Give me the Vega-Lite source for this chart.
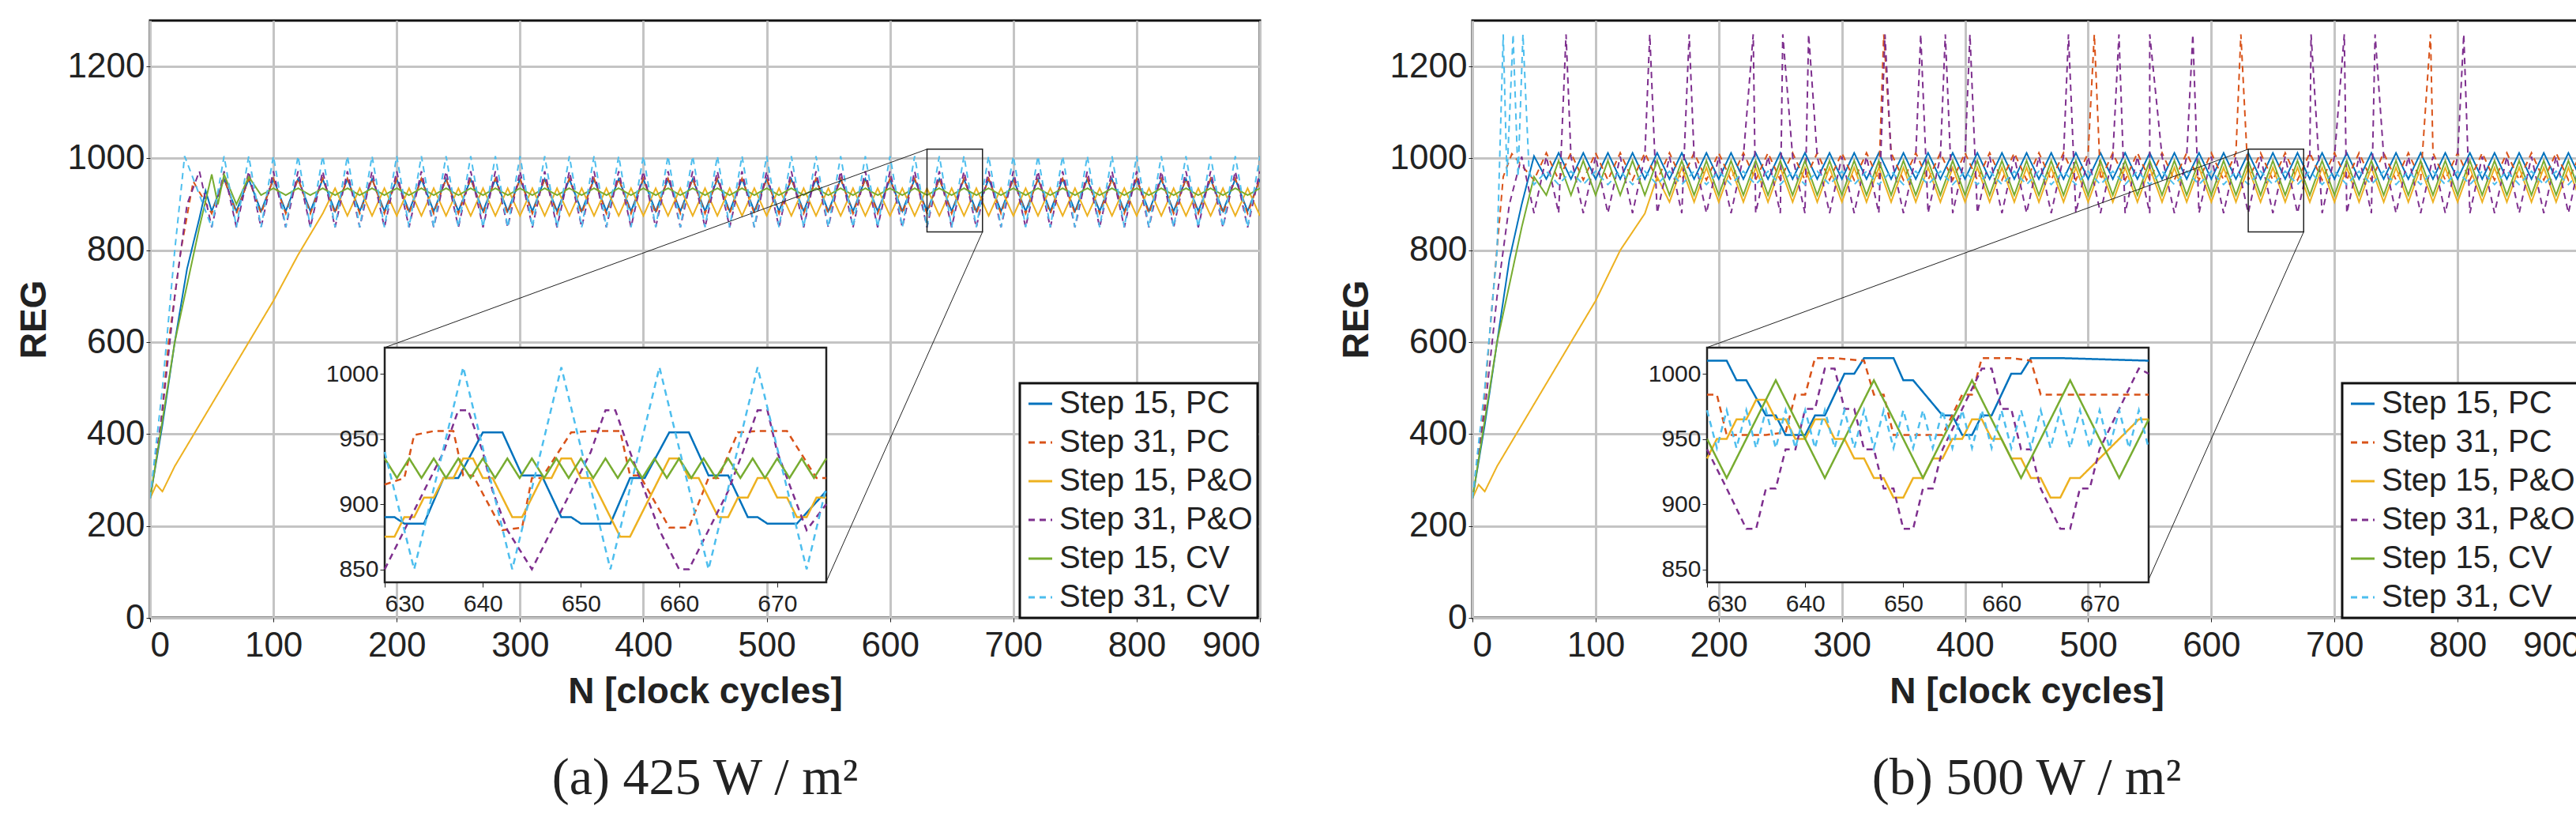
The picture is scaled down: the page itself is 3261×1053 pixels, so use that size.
{
"$schema":"https://vega.github.io/schema/vega-lite/v6.json",
"background":"white",
"padding":{"left":18,"top":24,"right":5,"bottom":5},
"config":{"font":"Liberation Sans","view":{"stroke":"#111","strokeWidth":3},
"axis":{"labelFont":"Liberation Sans","labelFontSize":44,"labelColor":"#222","titleFont":"Liberation Sans","titleFontSize":46,"titleFontWeight":"bold","titleColor":"#222","gridColor":"#c4c4c4","gridWidth":3,"gridOpacity":1,"tickColor":"#222","domain":false,"format":"d"},
"legend":{"labelFont":"Liberation Sans","labelFontSize":40,"labelColor":"#222","strokeColor":"#111","strokeWidth":3,"fillColor":"white","padding":6,"rowPadding":9,"symbolType":"stroke","symbolSize":900,"symbolStrokeWidth":3,"title":null,"labelLimit":400}},
"datasets":{
"a":[
{"s":"Step 15, PC","x":[0,10,20,30,40,45,50,60,70,80,90,100,110,120,130,140,150,160,170,180,190,200,210,220,230,240,250,260,270,280,290,300,310,320,330,340,350,360,370,380,390,400,410,420,430,440,450,460,470,480,490,500,510,520,530,540,550,560,570,580,590,600,610,620,630,640,650,660,670,680,690,700,710,720,730,740,750,760,770,780,790,800,810,820,830,840,850,860,870,880,890,900],"y":[260,420,600,760,870,930,885,955,885,955,885,955,885,955,885,955,885,955,885,955,885,955,885,955,885,955,885,955,885,955,885,955,885,955,885,955,885,955,885,955,885,955,885,955,885,955,885,955,885,955,885,955,885,955,885,955,885,955,885,955,885,955,885,955,885,955,885,955,885,955,885,955,885,955,885,955,885,955,885,955,885,955,885,955,885,955,885,955,885,955,885,955]},
{"s":"Step 31, PC","x":[0,8,15,25,35,50,60,70,80,90,100,110,120,130,140,150,160,170,180,190,200,210,220,230,240,250,260,270,280,290,300,310,320,330,340,350,360,370,380,390,400,410,420,430,440,450,460,470,480,490,500,510,520,530,540,550,560,570,580,590,600,610,620,630,640,650,660,670,680,690,700,710,720,730,740,750,760,770,780,790,800,810,820,830,840,850,860,870,880,890,900],"y":[260,400,600,800,950,880,956,880,956,880,956,880,956,880,956,880,956,880,956,880,956,880,956,880,956,880,956,880,956,880,956,880,956,880,956,880,956,880,956,880,956,880,956,880,956,880,956,880,956,880,956,880,956,880,956,880,956,880,956,880,956,880,956,880,956,880,956,880,956,880,956,880,956,880,956,880,956,880,956,880,956,880,956,880,956,880,956,880,956,880,956]},
{"s":"Step 15, P&O","x":[0,5,10,20,40,60,80,100,120,140,150,160,170,180,190,200,210,220,230,240,250,260,270,280,290,300,310,320,330,340,350,360,370,380,390,400,410,420,430,440,450,460,470,480,490,500,510,520,530,540,550,560,570,580,590,600,610,620,630,640,650,660,670,680,690,700,710,720,730,740,750,760,770,780,790,800,810,820,830,840,850,860,870,880,890,900],"y":[260,290,275,330,420,510,600,690,790,880,935,875,935,875,935,875,935,875,935,875,935,875,935,875,935,875,935,875,935,875,935,875,935,875,935,875,935,875,935,875,935,875,935,875,935,875,935,875,935,875,935,875,935,875,935,875,935,875,935,875,935,875,935,875,935,875,935,875,935,875,935,875,935,875,935,875,935,875,935,875,935,875,935,875,935,875]},
{"s":"Step 31, P&O","x":[0,10,20,30,40,50,60,70,80,90,100,110,120,130,140,150,160,170,180,190,200,210,220,230,240,250,260,270,280,290,300,310,320,330,340,350,360,370,380,390,400,410,420,430,440,450,460,470,480,490,500,510,520,530,540,550,560,570,580,590,600,610,620,630,640,650,660,670,680,690,700,710,720,730,740,750,760,770,780,790,800,810,820,830,840,850,860,870,880,890,900],"y":[260,450,700,900,972,850,972,850,972,850,972,850,972,850,972,850,972,850,972,850,972,850,972,850,972,850,972,850,972,850,972,850,972,850,972,850,972,850,972,850,972,850,972,850,972,850,972,850,972,850,972,850,972,850,972,850,972,850,972,850,972,850,972,850,972,850,972,850,972,850,972,850,972,850,972,850,972,850,972,850,972,850,972,850,972,850,972,850,972,850,972]},
{"s":"Step 15, CV","x":[0,20,40,50,55,60,70,80,90,100,110,120,130,140,150,160,170,180,190,200,210,220,230,240,250,260,270,280,290,300,310,320,330,340,350,360,370,380,390,400,410,420,430,440,450,460,470,480,490,500,510,520,530,540,550,560,570,580,590,600,610,620,630,640,650,660,670,680,690,700,710,720,730,740,750,760,770,780,790,800,810,820,830,840,850,860,870,880,890,900],"y":[260,600,850,965,900,965,900,960,920,935,920,935,920,935,920,935,920,935,920,935,920,935,920,935,920,935,920,935,920,935,920,935,920,935,920,935,920,935,920,935,920,935,920,935,920,935,920,935,920,935,920,935,920,935,920,935,920,935,920,935,920,935,920,935,920,935,920,935,920,935,920,935,920,935,920,935,920,935,920,935,920,935,920,935,920,935,920,935,920,935]},
{"s":"Step 31, CV","x":[0,10,20,28,50,60,70,80,90,100,110,120,130,140,150,160,170,180,190,200,210,220,230,240,250,260,270,280,290,300,310,320,330,340,350,360,370,380,390,400,410,420,430,440,450,460,470,480,490,500,510,520,530,540,550,560,570,580,590,600,610,620,630,640,650,660,670,680,690,700,710,720,730,740,750,760,770,780,790,800,810,820,830,840,850,860,870,880,890,900],"y":[260,500,800,1005,850,1005,850,1005,850,1005,850,1005,850,1005,850,1005,850,1005,850,1005,850,1005,850,1005,850,1005,850,1005,850,1005,850,1005,850,1005,850,1005,850,1005,850,1005,850,1005,850,1005,850,1005,850,1005,850,1005,850,1005,850,1005,850,1005,850,1005,850,1005,850,1005,850,1005,850,1005,850,1005,850,1005,850,1005,850,1005,850,1005,850,1005,850,1005,850,1005,850,1005,850,1005,850,1005,850,1005]}
],
"b":[
{"s":"Step 15, PC","x":[0,10,20,30,40,50,60,70,80,90,100,110,120,130,140,150,160,170,180,190,200,210,220,230,240,250,260,270,280,290,300,310,320,330,340,350,360,370,380,390,400,410,420,430,440,450,460,470,480,490,500,510,520,530,540,550,560,570,580,590,600,610,620,630,640,650,660,670,680,690,700,710,720,730,740,750,760,770,780,790,800,810,820,830,840,850,860,870,880,890,900],"y":[260,420,600,780,900,1005,955,1012,955,1012,955,1012,955,1012,955,1012,955,1012,955,1012,955,1012,955,1012,955,1012,955,1012,955,1012,955,1012,955,1012,955,1012,955,1012,955,1012,955,1012,955,1012,955,1012,955,1012,955,1012,955,1012,955,1012,955,1012,955,1012,955,1012,955,1012,955,1012,955,1012,955,1012,955,1012,955,1012,955,1012,955,1012,955,1012,955,1012,955,1012,955,1012,955,1012,955,1012,955,1012,955]},
{"s":"Step 31, PC","x":[0,8,15,25,32,50,60,70,80,90,100,110,120,130,140,150,160,170,180,190,200,210,220,230,240,250,260,270,280,290,300,310,320,330,340,350,360,370,380,390,400,410,420,430,440,450,460,470,480,490,500,510,520,530,540,550,560,570,580,590,600,610,620,630,640,650,660,670,680,690,700,710,720,730,740,750,760,770,780,790,800,810,820,830,840,850,860,870,880,890,900,334,505,624,778],"y":[260,420,650,960,1010,953,1012,953,1012,953,1012,953,1012,953,1012,953,1012,953,1012,953,1012,953,1012,953,1012,953,1012,953,1012,953,1012,953,1012,953,1012,953,1012,953,1012,953,1012,953,1012,953,1012,953,1012,953,1012,953,1012,953,1012,953,1012,953,1012,953,1012,953,1012,953,1012,953,1012,953,1012,953,1012,953,1012,953,1012,953,1012,953,1012,953,1012,953,1012,953,1012,953,1012,953,1012,953,1012,953,1012,1270,1270,1270,1270]},
{"s":"Step 15, P&O","x":[0,5,10,20,40,60,80,100,120,140,150,160,170,180,190,200,210,220,230,240,250,260,270,280,290,300,310,320,330,340,350,360,370,380,390,400,410,420,430,440,450,460,470,480,490,500,510,520,530,540,550,560,570,580,590,600,610,620,630,640,650,660,670,680,690,700,710,720,730,740,750,760,770,780,790,800,810,820,830,840,850,860,870,880,890,900],"y":[260,290,275,330,420,510,600,690,800,880,960,905,980,905,980,905,980,905,980,905,980,905,980,905,980,905,980,905,980,905,980,905,980,905,980,905,980,905,980,905,980,905,980,905,980,905,980,905,980,905,980,905,980,905,980,905,980,905,980,905,980,905,980,905,980,905,980,905,980,905,980,905,980,905,980,905,980,905,980,905,980,905,980,905,980,905]},
{"s":"Step 31, P&O","x":[0,10,20,30,40,50,60,70,80,90,100,110,120,130,140,150,160,170,180,190,200,210,220,230,240,250,260,270,280,290,300,310,320,330,340,350,360,370,380,390,400,410,420,430,440,450,460,470,480,490,500,510,520,530,540,550,560,570,580,590,600,610,620,630,640,650,660,670,680,690,700,710,720,730,740,750,760,770,780,790,800,810,820,830,840,850,860,870,880,890,900,76,144,176,228,252,273,335,364,384,404,484,525,550,585,681,708,733,805],"y":[260,450,700,900,1004,881,1004,881,1004,881,1004,881,1004,881,1004,881,1004,881,1004,881,1004,881,1004,881,1004,881,1004,881,1004,881,1004,881,1004,881,1004,881,1004,881,1004,881,1004,881,1004,881,1004,881,1004,881,1004,881,1004,881,1004,881,1004,881,1004,881,1004,881,1004,881,1004,881,1004,881,1004,881,1004,881,1004,881,1004,881,1004,881,1004,881,1004,881,1004,881,1004,881,1004,881,1004,881,1004,881,1004,1270,1270,1270,1270,1270,1270,1270,1270,1270,1270,1270,1270,1270,1270,1270,1270,1270,1270]},
{"s":"Step 15, CV","x":[0,20,40,50,60,70,80,90,100,110,120,130,140,150,160,170,180,190,200,210,220,230,240,250,260,270,280,290,300,310,320,330,340,350,360,370,380,390,400,410,420,430,440,450,460,470,480,490,500,510,520,530,540,550,560,570,580,590,600,610,620,630,640,650,660,670,680,690,700,710,720,730,740,750,760,770,780,790,800,810,820,830,840,850,860,870,880,890,900],"y":[260,600,850,960,920,995,920,995,920,995,920,995,920,995,920,995,920,995,920,995,920,995,920,995,920,995,920,995,920,995,920,995,920,995,920,995,920,995,920,995,920,995,920,995,920,995,920,995,920,995,920,995,920,995,920,995,920,995,920,995,920,995,920,995,920,995,920,995,920,995,920,995,920,995,920,995,920,995,920,995,920,995,920,995,920,995,920,995,920]},
{"s":"Step 31, CV","x":[0,10,20,25,28,33,37,41,46,50,60,70,80,90,100,110,120,130,140,150,160,170,180,190,200,210,220,230,240,250,260,270,280,290,300,310,320,330,340,350,360,370,380,390,400,410,420,430,440,450,460,470,480,490,500,510,520,530,540,550,560,570,580,590,600,610,620,630,640,650,660,670,680,690,700,710,720,730,740,750,760,770,780,790,800,810,820,830,840,850,860,870,880,890,900],"y":[260,500,800,1270,960,1270,960,1270,972,943,972,943,972,943,972,943,972,943,972,943,972,943,972,943,972,943,972,943,972,943,972,943,972,943,972,943,972,943,972,943,972,943,972,943,972,943,972,943,972,943,972,943,972,943,972,943,972,943,972,943,972,943,972,943,972,943,972,943,972,943,972,943,972,943,972,943,972,943,972,943,972,943,972,943,972,943,972,943,972,943,972,943,972,943,972]}
],
"ai":[
{"s":"Step 15, PC","x":[630,631,632,634,636,637.5,640,642,644,646,648,649,650,653,655,656.5,659,661,663,665,667,668,669,672,675],"y":[890,890,885,885,920,920,955,955,922,922,890,890,885,885,920,920,955,955,922,922,890,890,885,885,910]},
{"s":"Step 31, PC","x":[630,632,633,635,637,638,639,642,644,645,646,649,651,654,655,656,659,661,663,664,666,668,671,674,675],"y":[915,920,953,956,956,922,922,880,882,920,920,955,956,956,922,922,882,882,920,920,955,956,956,920,920]},
{"s":"Step 15, P&O","x":[630,631,632,633,634,635,636,637,638,639,640,641,642,643,644,645,646,647,648,649,650,651,652,653,654,655,656,657,658,659,660,661,662,663,664,665,666,667,668,669,670,671,672,673,674,675],"y":[875,875,890,890,905,905,920,920,935,935,920,920,905,890,890,905,920,920,935,935,920,920,905,890,875,875,890,905,920,935,935,920,920,905,890,890,905,905,920,920,905,905,890,890,905,905]},
{"s":"Step 31, P&O","x":[630,632,634,636,637.5,638.5,640,641,642.5,645,647,649,651,652.5,653.5,655,656.5,658,660,661,663,665,666.5,668,669,670,671.5,673,675],"y":[850,880,910,940,972,972,940,910,880,850,880,910,940,972,972,940,910,880,850,850,880,910,940,972,972,940,910,880,900]},
{"s":"Step 15, CV","x":[630,631.25,632.5,633.75,635,636.25,637.5,638.75,640,641.25,642.5,643.75,645,646.25,647.5,648.75,650,651.25,652.5,653.75,655,656.25,657.5,658.75,660,661.25,662.5,663.75,665,666.25,667.5,668.75,670,671.25,672.5,673.75,675],"y":[935,920,935,920,935,920,935,920,935,920,935,920,935,920,935,920,935,920,935,920,935,920,935,920,935,920,935,920,935,920,935,920,935,920,935,920,935]},
{"s":"Step 31, CV","x":[630,633,638,643,648,653,658,663,668,673,675],"y":[940,850,1005,850,1005,850,1005,850,1005,850,913]}
],
"bi":[
{"s":"Step 15, PC","x":[630,632,633,634,636,637,638,640,641,642,644,645,646,649,650,651,654,655,656,657,658,659,661,662,663,666,675],"y":[1010,1010,995,995,968,968,953,953,968,968,1000,1000,1012,1012,995,995,968,968,953,953,968,968,1000,1000,1012,1012,1010]},
{"s":"Step 31, PC","x":[630,631,632,636,638,639,640,641,643,646,647,648,649,654,656,657,658,661,663,664,675],"y":[984,984,953,953,955,984,984,1012,1012,1010,984,984,953,953,984,984,1012,1012,1010,984,984]},
{"s":"Step 15, P&O","x":[630,631,632,633,634,635,636,637,638,639,640,641,642,643,644,645,646,647,648,649,650,651,652,653,654,655,656,657,658,659,660,661,662,663,664,665,666,667,668,670,672,674,675],"y":[935,950,950,965,965,980,980,965,965,950,950,965,965,950,950,935,935,920,920,905,905,920,920,935,935,950,950,965,965,950,950,935,935,920,920,905,905,920,920,935,950,965,965]},
{"s":"Step 31, P&O","x":[630,632,634,635,636,637,638,639,640,641,642,643,644,645,646,647,648,649,650,651,652,653,654,656,658,659,660,661,662,663,664,666,667,668,669,670,672,674,675],"y":[942,912,881,881,912,912,942,942,973,973,1004,1004,973,973,942,942,912,912,881,881,912,912,942,973,1004,1004,973,973,942,942,912,881,881,912,912,942,973,1004,1000]},
{"s":"Step 15, CV","x":[630,632,637,642,647,652,657,662,667,672,675],"y":[950,920,995,920,995,920,995,920,995,920,965]},
{"s":"Step 31, CV","x":[630,631,632,633,634,635,636,637,638,639,640,641,642,643,644,645,646,647,648,649,650,651,652,653,654,655,656,657,658,659,660,661,662,663,664,665,666,667,668,669,670,671,672,673,674,675],"y":[972,943,972,943,972,943,972,943,972,943,972,943,972,943,972,943,972,943,972,943,972,943,972,943,972,943,972,943,972,943,972,943,972,943,972,943,972,943,972,943,972,943,972,943,972,943]}
],
"box":[{"x":630,"x2":675,"y":840,"y2":1020}],
"conn":[{"x":630,"y":1020,"x2":190,"y2":588},{"x":675,"y":840,"x2":548,"y2":77}]
},
"hconcat":[
{"width":1405,"height":756,
"title":{"text":"(a) 425 W / m²","orient":"bottom","font":"Liberation Serif","fontSize":66,"fontWeight":"normal","color":"#222","offset":55},
"layer":[
{"layer":[
{"data":{"name":"a"},"transform":[{"flatten":["x","y"]}],"mark":{"type":"line","strokeWidth":2,"clip":true},
"encoding":{"x":{"field":"x","type":"quantitative","scale":{"domain":[0,900],"nice":false},"axis":{"values":[0,100,200,300,400,500,600,700,800,900],"title":"N [clock cycles]","labelPadding":8,"titlePadding":14}},
"y":{"field":"y","type":"quantitative","scale":{"domain":[0,1300],"nice":false},"axis":{"values":[0,200,400,600,800,1000,1200],"title":"REG","titlePadding":18}},
"color":{"field":"s","type":"nominal","scale":{"domain":["Step 15, PC","Step 31, PC","Step 15, P&O","Step 31, P&O","Step 15, CV","Step 31, CV"],"range":["#0072BD","#D95319","#EDB120","#7E2F8E","#77AC30","#4DBEEE"]},"legend":{"orient":"none","legendX":1101,"legendY":459}},
"strokeDash":{"field":"s","type":"nominal","scale":{"domain":["Step 15, PC","Step 31, PC","Step 15, P&O","Step 31, P&O","Step 15, CV","Step 31, CV"],"range":[[1,0],[8,6],[1,0],[8,6],[1,0],[8,6]]},"legend":{"orient":"none","legendX":1101,"legendY":459}}}},
{"data":{"name":"box"},"mark":{"type":"rect","fill":null,"stroke":"#222","strokeWidth":1.5},"encoding":{"x":{"field":"x","type":"quantitative"},"x2":{"field":"x2"},"y":{"field":"y","type":"quantitative"},"y2":{"field":"y2"}}},
{"data":{"name":"conn"},"mark":{"type":"rule","stroke":"#222","strokeWidth":1},"encoding":{"x":{"field":"x","type":"quantitative"},"x2":{"field":"x2"},"y":{"field":"y","type":"quantitative"},"y2":{"field":"y2"}}}
]},
{"layer":[
{"data":{"name":"box"},"mark":{"type":"rect","fill":"white","stroke":"#222","strokeWidth":2.5},"encoding":{"x":{"field":"x","type":"quantitative","scale":{"domain":[630,675],"nice":false,"zero":false,"range":[297,856]},"axis":{"orient":"bottom","offset":-45,"values":[630,640,650,660,670],"grid":false,"labelFontSize":30,"title":null,"zindex":1,"tickSize":6,"labelPadding":6}},"x2":{"field":"x2"},"y":{"field":"y","type":"quantitative","scale":{"domain":[840,1020],"nice":false,"zero":false,"range":[711,414]},"axis":{"orient":"left","offset":-297,"values":[850,900,950,1000],"grid":false,"labelFontSize":30,"title":null,"zindex":1,"tickSize":6}},"y2":{"field":"y2"}}},
{"data":{"name":"ai"},"transform":[{"flatten":["x","y"]}],"mark":{"type":"line","strokeWidth":2.5,"clip":true},
"encoding":{"x":{"field":"x","type":"quantitative"},"y":{"field":"y","type":"quantitative"},"color":{"field":"s","type":"nominal"},"strokeDash":{"field":"s","type":"nominal"}}}
]}
],
"resolve":{"scale":{"x":"independent","y":"independent"},"axis":{"x":"independent","y":"independent"}}
},
{"width":1403,"height":756,
"title":{"text":"(b) 500 W / m²","orient":"bottom","font":"Liberation Serif","fontSize":66,"fontWeight":"normal","color":"#222","offset":55},
"layer":[
{"layer":[
{"data":{"name":"b"},"transform":[{"flatten":["x","y"]}],"mark":{"type":"line","strokeWidth":2,"clip":true},
"encoding":{"x":{"field":"x","type":"quantitative","scale":{"domain":[0,900],"nice":false},"axis":{"values":[0,100,200,300,400,500,600,700,800,900],"title":"N [clock cycles]","labelPadding":8,"titlePadding":14}},
"y":{"field":"y","type":"quantitative","scale":{"domain":[0,1300],"nice":false},"axis":{"values":[0,200,400,600,800,1000,1200],"title":"REG","titlePadding":18}},
"color":{"field":"s","type":"nominal","scale":{"domain":["Step 15, PC","Step 31, PC","Step 15, P&O","Step 31, P&O","Step 15, CV","Step 31, CV"],"range":["#0072BD","#D95319","#EDB120","#7E2F8E","#77AC30","#4DBEEE"]},"legend":{"orient":"none","legendX":1101,"legendY":459}},
"strokeDash":{"field":"s","type":"nominal","scale":{"domain":["Step 15, PC","Step 31, PC","Step 15, P&O","Step 31, P&O","Step 15, CV","Step 31, CV"],"range":[[1,0],[8,6],[1,0],[8,6],[1,0],[8,6]]},"legend":{"orient":"none","legendX":1101,"legendY":459}}}},
{"data":{"name":"box"},"mark":{"type":"rect","fill":null,"stroke":"#222","strokeWidth":1.5},"encoding":{"x":{"field":"x","type":"quantitative"},"x2":{"field":"x2"},"y":{"field":"y","type":"quantitative"},"y2":{"field":"y2"}}},
{"data":{"name":"conn"},"mark":{"type":"rule","stroke":"#222","strokeWidth":1},"encoding":{"x":{"field":"x","type":"quantitative"},"x2":{"field":"x2"},"y":{"field":"y","type":"quantitative"},"y2":{"field":"y2"}}}
]},
{"layer":[
{"data":{"name":"box"},"mark":{"type":"rect","fill":"white","stroke":"#222","strokeWidth":2.5},"encoding":{"x":{"field":"x","type":"quantitative","scale":{"domain":[630,675],"nice":false,"zero":false,"range":[297,856]},"axis":{"orient":"bottom","offset":-45,"values":[630,640,650,660,670],"grid":false,"labelFontSize":30,"title":null,"zindex":1,"tickSize":6,"labelPadding":6}},"x2":{"field":"x2"},"y":{"field":"y","type":"quantitative","scale":{"domain":[840,1020],"nice":false,"zero":false,"range":[711,414]},"axis":{"orient":"left","offset":-297,"values":[850,900,950,1000],"grid":false,"labelFontSize":30,"title":null,"zindex":1,"tickSize":6}},"y2":{"field":"y2"}}},
{"data":{"name":"bi"},"transform":[{"flatten":["x","y"]}],"mark":{"type":"line","strokeWidth":2.5,"clip":true},
"encoding":{"x":{"field":"x","type":"quantitative"},"y":{"field":"y","type":"quantitative"},"color":{"field":"s","type":"nominal"},"strokeDash":{"field":"s","type":"nominal"}}}
]}
],
"resolve":{"scale":{"x":"independent","y":"independent"},"axis":{"x":"independent","y":"independent"}}
}
],
"spacing":95,
"resolve":{"legend":{"color":"independent","strokeDash":"independent"}}
}
